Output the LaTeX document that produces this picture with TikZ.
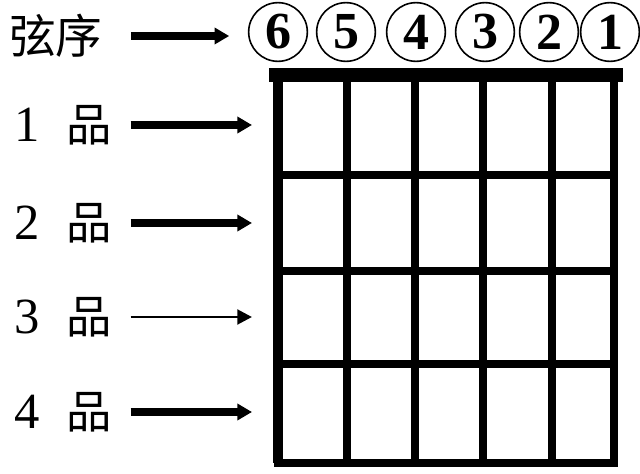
\documentclass[tikz,border=0pt]{standalone}
\usepackage{fontspec}
\setmainfont{Liberation Serif}
\newfontfamily\cjk{Noto Sans CJK SC}
\usepackage{tikz}
\usetikzlibrary{
  positioning,
  arrows.meta,
  calc
}
\tikzset{
  % Plain text label
  tag/.style={
    inner sep=0pt,
    anchor=center
  },
  % Chinese label
  hanzi/.style={
    tag,
    font=\cjk\fontsize{34pt}{34pt}\selectfont
  },
  % Row number
  rownum/.style={
    tag,
    font=\fontsize{38pt}{38pt}\selectfont
  },
  % Circled string number
  snum/.style={
    circle,
    draw=black,
    line width=1.2pt,
    minimum size=44pt,
    inner sep=0pt,
    font=\bfseries\fontsize{39pt}{39pt}\selectfont
  },
  % Heavy arrow
  harrow/.style={
    draw=black,
    line width=6pt,
    -{Triangle[length=11pt,width=12pt]}
  },
  % Light arrow
  larrow/.style={
    draw=black,
    line width=2.2pt,
    -{Triangle[length=11pt,width=11pt]}
  },
  % Grid lines
  gridline/.style={
    draw=black,
    line width=6pt
  },
  nutline/.style={
    draw=black,
    line width=10pt,
    line cap=rect
  }
}

\begin{document}
\begin{tikzpicture}[x=0.75pt, y=-0.75pt]
  \useasboundingbox (0,0) rectangle (640,474);

  % Strings and frets
  \foreach \x in {278,347,415,483,552,614}
    \draw[gridline] (\x,75) -- (\x,463);
  \draw[gridline, line width=7.5pt] (278,75) -- (278,463);
  \foreach \y in {175,271,364}
    \draw[gridline] (278,\y) -- (614,\y);
  \draw[gridline, line cap=rect] (278,463) -- (614,463);
  \draw[nutline] (276,75) -- (616,75);

  % String numbers
  \foreach \x/\n in {278/6, 346/5, 416/4, 485/3, 549/2, 610/1}
    \node[snum] (s\n) at (\x,32) {\n};

  % Header
  \node[hanzi, font=\cjk\fontsize{35pt}{35pt}\selectfont] (hdr) at (56,36) {弦序};
  \draw[harrow, shorten <=21pt, shorten >=14pt] (hdr) -- (hdr -| s6.west);

  % Frets
  \foreach \i/\y/\a in {1/125/harrow, 2/223/harrow, 3/317/larrow, 4/412/harrow} {
    \node[rownum] (n\i) at (27,\y) {\i};
    \node[hanzi] (p\i) at (89,\y) {品};
    \coordinate (r\i) at (278,\y);
    \draw[\a, shorten <=14pt, shorten >=19.5pt] (p\i) -- (r\i);
  }
\end{tikzpicture}
\end{document}
